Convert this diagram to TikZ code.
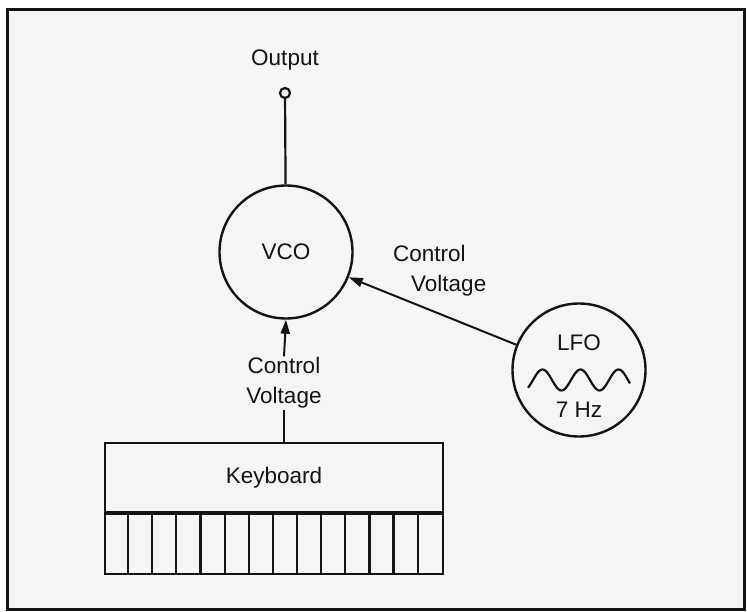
\documentclass[tikz,border=0pt]{standalone}
\usepackage{fontspec}
\setmainfont{Liberation Sans}
\usetikzlibrary{arrows.meta, positioning, calc}
\definecolor{paper}{RGB}{245, 245, 245}
\definecolor{ink}{RGB}{20, 20, 20}
\tikzset{
    modcircle/.style={draw=ink, circle, line width=2.4pt, minimum size=133pt, inner sep=0pt, align=center},
    kbdbox/.style={draw=ink, rectangle, line width=2.2pt, minimum width=338pt, inner sep=0pt},
    label/.style={font=\fontsize{22.5}{30}\selectfont, text=ink, inner sep=1pt},
    cvarrow/.style={-{Triangle[length=14pt, width=9pt]}, line width=2pt, draw=ink},
    wire/.style={line width=2.2pt, draw=ink},
}
\begin{document}
\begin{tikzpicture}[x=1pt, y=-1pt]
    \useasboundingbox (0,0) rectangle (747,612);
    \draw[line width=3pt, draw=ink, fill=paper] (7,10) rectangle (744,609);

    \node[label] (outlabel) at (285,60) {Output};
    \node[draw=ink, circle, line width=2.2pt, minimum size=10pt, inner sep=0pt, fill=paper] (out) at (285,93) {};
    \node[modcircle, label] (vco) at (286,252) {VCO};
    \node[modcircle] (lfo) at (579,370) {};
    \node[label] (lfoname) at (579,343) {LFO};
    \node[label] (lforate) at (579,410) {7 Hz};
    \draw[wire] plot[domain=528:630, samples=90, smooth] (\x, {380 - 10.5*sin(9.4737*(\x-533))});

    \node[kbdbox, minimum height=69pt] (kbd) at (274,477.5) {};
    \node[label] at (kbd) {Keyboard};
    \node[kbdbox, minimum height=60pt, below=0pt of kbd] (keys) {};
    \foreach \k in {1,...,13}
        \draw[wire] ($(keys.north west)+(\k*24.14,0)$) -- ($(keys.south west)+(\k*24.14,0)$);

    \node[label, align=center] (cvkbd) at (284,383) {Control\\Voltage};
    \node[label, align=left, anchor=west] (cvlfo) at (392,271) {Control\\\hspace*{18pt}Voltage};

    \draw[wire] (out) -- (vco);
    \draw[wire] (cvkbd.south) -- (cvkbd.south |- kbd.north);
    \draw[cvarrow] (cvkbd.north) -- (vco.south);
    \draw[cvarrow] (lfo) -- (vco);
\end{tikzpicture}
\end{document}
